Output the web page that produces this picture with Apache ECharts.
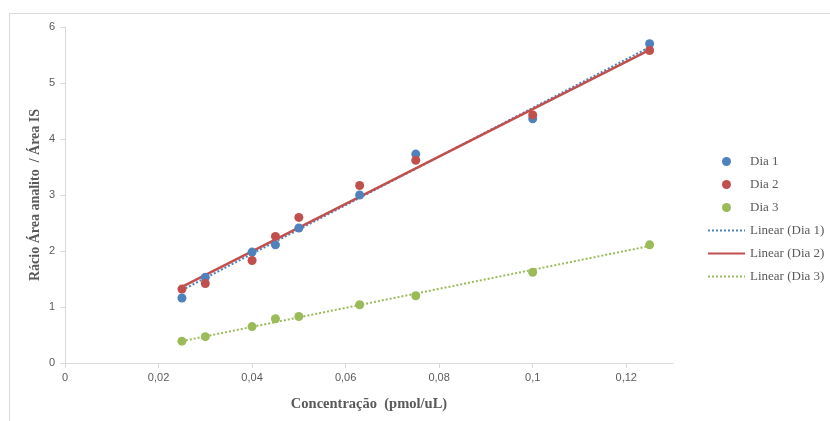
<!DOCTYPE html>
<html><head><meta charset="utf-8">
<script src="https://cdn.jsdelivr.net/npm/echarts@6/dist/echarts.min.js"></script>
<style>html,body{margin:0;padding:0;background:#fff}#c{width:830px;height:421px}</style>
</head><body><div id="c"></div>
<script>
const concentrations = [0.025, 0.03, 0.04, 0.045, 0.05, 0.063, 0.075, 0.1, 0.125];
const dia1 = [1.16, 1.53, 1.98, 2.11, 2.41, 3.00, 3.73, 4.36, 5.70];
const dia2 = [1.32, 1.42, 1.83, 2.26, 2.60, 3.17, 3.62, 4.43, 5.58];
const dia3 = [0.39, 0.47, 0.65, 0.79, 0.83, 1.04, 1.20, 1.62, 2.11];
// trend line endpoints: [x, y]
const trend1 = [[0.025, 1.30], [0.125, 5.64]];
const trend2 = [[0.025, 1.36], [0.125, 5.59]];
const trend3 = [[0.025, 0.39], [0.125, 2.09]];
const seriesNames = ['Dia 1', 'Dia 2', 'Dia 3', 'Linear (Dia 1)', 'Linear (Dia 2)', 'Linear (Dia 3)'];
const xTitle = 'Concentração  (pmol/uL)';
const yTitle = 'Rácio Área analito  / Área IS';

const BLUE = '#4F81BD', RED = '#C0504D', GREEN = '#9BBB59';
const pts = arr => concentrations.map((x, i) => [x, arr[i]]);
const comma = v => String(+v.toFixed(4)).replace('.', ',');

const chart = echarts.init(document.getElementById('c'), null, {renderer: 'canvas'});
const scatter = (name, data, color) => ({
  name, type: 'scatter', data: pts(data), symbol: 'circle', symbolSize: 9,
  itemStyle: {color, opacity: 1}, emphasis: {disabled: true}, z: 5
});
const trend = (name, data, color, type, width) => ({
  name, type: 'line', data, symbol: 'none', showSymbol: false,
  lineStyle: {color, type, width}, itemStyle: {color}, emphasis: {disabled: true}, z: 3
});
chart.setOption({
  animation: false,
  backgroundColor: '#fff',
  graphic: [{type: 'rect', left: 7, top: 11, shape: {width: 840, height: 430},
    style: {fill: 'none', stroke: '#d9d9d9', lineWidth: 1}, silent: true}],
  grid: {left: 65, right: 157, top: 27, bottom: 58},
  xAxis: {
    type: 'value', min: 0, max: 0.13, interval: 0.02,
    name: xTitle, nameLocation: 'middle', nameGap: 34, nameMoveOverlap: false,
    nameTextStyle: {fontFamily: 'Liberation Serif', fontWeight: 'bold', fontSize: 14.5, color: '#595959'},
    axisLine: {show: true, lineStyle: {color: '#d9d9d9', width: 1}},
    axisTick: {show: true, length: 5, lineStyle: {color: '#d9d9d9'}},
    splitLine: {show: false},
    axisLabel: {formatter: v => comma(v), color: '#595959', fontFamily: 'Liberation Sans', fontSize: 11, margin: 9,
      showMaxLabel: false}
  },
  yAxis: {
    type: 'value', min: 0, max: 6, interval: 1,
    name: yTitle, nameLocation: 'middle', nameGap: 23, nameRotate: 90, nameMoveOverlap: false,
    nameTextStyle: {fontFamily: 'Liberation Serif', fontWeight: 'bold', fontSize: 14, color: '#595959'},
    axisLine: {show: true, lineStyle: {color: '#d9d9d9', width: 1}},
    axisTick: {show: true, length: 5, lineStyle: {color: '#d9d9d9'}},
    splitLine: {show: false},
    axisLabel: {color: '#595959', fontFamily: 'Liberation Sans', fontSize: 11, margin: 10}
  },
  legend: {
    orient: 'vertical', left: 702, top: 150, itemWidth: 37, itemHeight: 9, itemGap: 10,
    selectedMode: false,
    textStyle: {fontFamily: 'Liberation Serif', fontSize: 13, color: '#595959'},
    data: [
      {name: seriesNames[0]}, {name: seriesNames[1]}, {name: seriesNames[2]},
      {name: seriesNames[3], itemStyle: {opacity: 0}},
      {name: seriesNames[4], itemStyle: {opacity: 0}},
      {name: seriesNames[5], itemStyle: {opacity: 0}}
    ]
  },
  series: [
    scatter(seriesNames[0], dia1, BLUE),
    scatter(seriesNames[1], dia2, RED),
    scatter(seriesNames[2], dia3, GREEN),
    trend(seriesNames[3], trend1, BLUE, 'dotted', 2),
    trend(seriesNames[4], trend2, RED, 'solid', 2.5),
    trend(seriesNames[5], trend3, GREEN, 'dotted', 2)
  ]
});
</script></body></html>
